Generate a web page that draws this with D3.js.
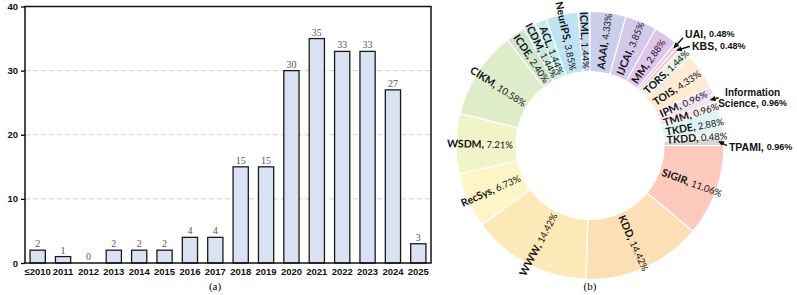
<!DOCTYPE html>
<html>
<head>
<meta charset="utf-8">
<script src="https://cdn.jsdelivr.net/npm/d3@7"></script>
<style>
  html, body { margin: 0; padding: 0; background: #fff; }
  svg { display: block; }
</style>
</head>
<body>
<svg id="chart" width="797" height="295"></svg>
<script>
// (a) papers per year
const years = ["≤2010", "2011", "2012", "2013", "2014", "2015", "2016", "2017",
               "2018", "2019", "2020", "2021", "2022", "2023", "2024", "2025"];
const paperCounts = [2, 1, 0, 2, 2, 2, 4, 4, 15, 15, 30, 35, 33, 33, 27, 3];
const yTicks = [0, 10, 20, 30, 40];

// (b) venue share, clockwise from 3 o'clock
const venues = ["SIGIR", "KDD", "WWW", "RecSys", "WSDM", "CIKM", "ICDE", "ICDM", "ACL",
                "NeurIPS", "ICML", "AAAI", "IJCAI", "MM", "UAI", "KBS", "TORS", "TOIS",
                "IPM", "Information Science", "TMM", "TKDE", "TKDD", "TPAMI"];
const venueCounts = [23, 30, 30, 14, 15, 22, 5, 3, 3, 8, 3, 9, 8, 6, 1, 1, 3, 9, 2, 2, 2, 6, 1, 2];
const venueColors = ["#fdcabd", "#fddfb6", "#fde9b8", "#fef5c6", "#f1f3c8", "#dfecca",
                     "#cfe5cd", "#c7e8dc", "#c2ebe9", "#bfe3f5", "#c5d8f0", "#cacdeb",
                     "#d4c8ec", "#dfc4eb", "#f2c3dd", "#f8c3cc", "#e6f4e2", "#fdebd6",
                     "#e8e0f2", "#f2e3ee", "#f8e2e3", "#dff3f3", "#ececec", "#d6d6d6"];
const calloutVenues = ["UAI", "KBS", "Information Science", "TPAMI"];

const svg = d3.select("#chart");

// ---------- bar chart ----------
const plot = {left: 25, right: 431, top: 6.5, bottom: 263};

const x = d3.scaleBand()
  .domain(years)
  .range([plot.left, plot.right])
  .paddingInner(0.4)
  .paddingOuter(0.2);

const y = d3.scaleLinear()
  .domain([0, 40])
  .range([plot.bottom, plot.top]);

svg.append("g")
  .selectAll("line")
  .data(yTicks.filter(t => t > 0 && t < 40))
  .enter()
  .append("line")
  .attr("x1", plot.left)
  .attr("x2", plot.right)
  .attr("y1", d => y(d))
  .attr("y2", d => y(d))
  .attr("stroke", "#cfcfcf")
  .attr("stroke-width", 1)
  .attr("stroke-dasharray", "5,3");

svg.append("g")
  .selectAll("rect")
  .data(paperCounts)
  .enter()
  .append("rect")
  .attr("x", (d, i) => x(years[i]))
  .attr("y", d => y(d))
  .attr("width", x.bandwidth())
  .attr("height", d => y(0) - y(d))
  .attr("fill", "#d9e1f2")
  .attr("stroke", "#1a1a1a")
  .attr("stroke-width", 1.3);

svg.append("g")
  .selectAll("text")
  .data(paperCounts)
  .enter()
  .append("text")
  .attr("x", (d, i) => x(years[i]) + x.bandwidth() / 2)
  .attr("y", d => y(d) - 3)
  .attr("text-anchor", "middle")
  .attr("font-family", "Liberation Serif, serif")
  .attr("font-size", "10px")
  .attr("fill", "#555")
  .text(d => d);

const xAxis = svg.append("g")
  .attr("transform", `translate(0,${plot.bottom})`)
  .call(d3.axisBottom(x).tickSize(0).tickPadding(5));
xAxis.select(".domain").remove();
xAxis.selectAll("text")
  .attr("font-family", "Liberation Sans, sans-serif")
  .attr("font-weight", "bold")
  .attr("font-size", "9.5px")
  .attr("fill", "#111");

const yAxis = svg.append("g")
  .attr("transform", `translate(${plot.left},0)`)
  .call(d3.axisLeft(y).tickValues(yTicks).tickSize(4).tickPadding(3));
yAxis.select(".domain").remove();
yAxis.selectAll("line").attr("stroke-width", 1.3);
yAxis.selectAll("text")
  .attr("font-family", "Liberation Sans, sans-serif")
  .attr("font-weight", "bold")
  .attr("font-size", "9.5px")
  .attr("fill", "#111");

svg.append("rect")
  .attr("x", plot.left)
  .attr("y", plot.top)
  .attr("width", plot.right - plot.left)
  .attr("height", plot.bottom - plot.top)
  .attr("fill", "none")
  .attr("stroke", "#111")
  .attr("stroke-width", 1.5);

svg.append("text")
  .attr("x", 215)
  .attr("y", 290)
  .attr("text-anchor", "middle")
  .attr("font-family", "Liberation Serif, serif")
  .attr("font-size", "11px")
  .text("(a)");

// ---------- donut ----------
const cx = 590, cy = 145.5, rOuter = 134, rInner = 74;
const total = d3.sum(venueCounts);
const fmt = d3.format(".2f");

const pie = d3.pie()
  .sort(null)
  .startAngle(Math.PI / 2)
  .endAngle(Math.PI / 2 + 2 * Math.PI)
  .value(d => d.count);

const slices = pie(venues.map((v, i) => ({name: v, count: venueCounts[i], color: venueColors[i]})));

const arc = d3.arc().innerRadius(rInner).outerRadius(rOuter);
const labelArc = d3.arc().innerRadius(77).outerRadius(77);
const tipArc = d3.arc().innerRadius(129).outerRadius(129);

const donut = svg.append("g").attr("transform", `translate(${cx},${cy})`);

donut.selectAll("path")
  .data(slices)
  .enter()
  .append("path")
  .attr("d", arc)
  .attr("fill", d => d.data.color)
  .attr("stroke", "#fff")
  .attr("stroke-width", 1.2);

const pct = d => fmt(d.data.count / total * 100) + "%";

const inside = donut.selectAll("text.slice-label")
  .data(slices.filter(d => !calloutVenues.includes(d.data.name)))
  .enter()
  .append("text")
  .attr("class", "slice-label")
  .attr("transform", d => {
    const [lx, ly] = labelArc.centroid(d);
    const a = (d.startAngle + d.endAngle) / 2 * 180 / Math.PI;
    const rot = lx > 0 ? a - 90 : a + 90;
    return `translate(${lx},${ly}) rotate(${rot})`;
  })
  .attr("text-anchor", d => labelArc.centroid(d)[0] > 0 ? "start" : "end")
  .attr("dominant-baseline", "central")
  .attr("font-family", "Lato, sans-serif")
  .attr("fill", "#111");
inside.append("tspan").attr("font-weight", "bold").attr("font-size", "10.5px").text(d => d.data.name + ", ");
inside.append("tspan").attr("font-size", "9.5px").text(pct);

// callouts for the thin slices
const calloutLayout = {
  "UAI": {tail: [9, -10], text: [11, -13.5], anchor: "start"},
  "KBS": {tail: [13, -4], text: [15, -4], anchor: "start"},
  "Information Science": {tail: [8, -2], text: [42, -7.5], anchor: "middle"},
  "TPAMI": {tail: [8, 4], text: [10, 5], anchor: "start"}
};

svg.append("defs").append("marker")
  .attr("id", "arrow")
  .attr("viewBox", "0 0 10 10")
  .attr("refX", 9)
  .attr("refY", 5)
  .attr("markerWidth", 5.5)
  .attr("markerHeight", 5.5)
  .attr("markerUnits", "userSpaceOnUse")
  .attr("orient", "auto")
  .append("path")
  .attr("d", "M0,0 L10,5 L0,10 z")
  .attr("fill", "#111");

const callouts = donut.selectAll("g.callout")
  .data(slices.filter(d => calloutVenues.includes(d.data.name)))
  .enter()
  .append("g")
  .attr("class", "callout");

callouts.append("line")
  .attr("x1", d => tipArc.centroid(d)[0] + calloutLayout[d.data.name].tail[0])
  .attr("y1", d => tipArc.centroid(d)[1] + calloutLayout[d.data.name].tail[1])
  .attr("x2", d => tipArc.centroid(d)[0])
  .attr("y2", d => tipArc.centroid(d)[1])
  .attr("stroke", "#111")
  .attr("stroke-width", 1.4)
  .attr("marker-end", "url(#arrow)");

const calloutText = callouts.append("text")
  .attr("x", d => tipArc.centroid(d)[0] + calloutLayout[d.data.name].text[0])
  .attr("y", d => tipArc.centroid(d)[1] + calloutLayout[d.data.name].text[1])
  .attr("text-anchor", d => calloutLayout[d.data.name].anchor)
  .attr("dominant-baseline", "central")
  .attr("font-family", "Liberation Sans, sans-serif")
  .attr("font-weight", "bold")
  .attr("fill", "#111");

calloutText.each(function (d) {
  const t = d3.select(this);
  const lay = calloutLayout[d.data.name];
  const words = d.data.name.split(" ");
  if (words.length > 1) {
    t.append("tspan").attr("font-size", "10px").text(words[0]);
    const line2 = t.append("tspan")
      .attr("x", tipArc.centroid(d)[0] + lay.text[0])
      .attr("dy", "10.5");
    line2.append("tspan").attr("font-size", "10px").text(words.slice(1).join(" ") + ", ");
    line2.append("tspan").attr("font-size", "9px").text(pct(d));
  } else {
    t.append("tspan").attr("font-size", "10.5px").text(d.data.name + ", ");
    t.append("tspan").attr("font-size", "9px").text(pct(d));
  }
});

svg.append("text")
  .attr("x", cx)
  .attr("y", 290)
  .attr("text-anchor", "middle")
  .attr("font-family", "Liberation Serif, serif")
  .attr("font-size", "11px")
  .text("(b)");
</script>
</body>
</html>
